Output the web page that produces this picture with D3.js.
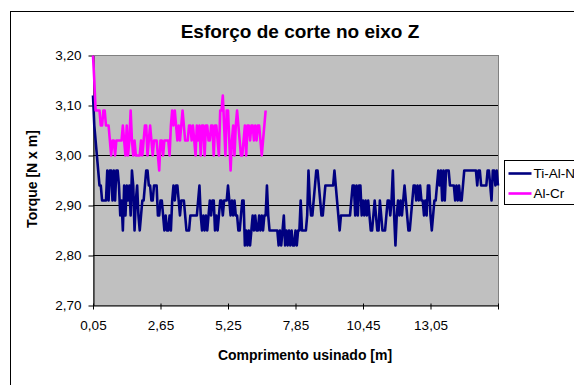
<!DOCTYPE html>
<html>
<head>
<meta charset="utf-8">
<script src="https://cdn.jsdelivr.net/npm/d3@7"></script>
<style>
body { margin: 0; background: #fff; }
svg { display: block; font-family: Arial, "Liberation Sans", sans-serif; }
</style>
</head>
<body>
<div id="content"></div>
<script>
// Torque readings (N x m), one every 0.05 m of machined length
const tiAlN = [
  3.12,3.06,3.03,3.00,2.97,2.94,2.94,2.91,2.91,2.91,
  2.91,2.97,2.91,2.97,2.97,2.91,2.97,2.91,2.97,2.97,
  2.94,2.88,2.91,2.85,2.94,2.88,2.94,2.91,2.94,2.88,
  2.97,2.94,2.85,2.91,2.94,2.88,2.85,2.88,2.91,2.91,
  2.94,2.97,2.97,2.94,2.94,2.91,2.91,2.94,2.94,2.94,
  2.88,2.88,2.91,2.91,2.88,2.85,2.88,2.85,2.85,2.88,
  2.85,2.91,2.94,2.91,2.94,2.94,2.91,2.88,2.91,2.91,
  2.91,2.88,2.85,2.85,2.85,2.88,2.88,2.88,2.88,2.88,
  2.88,2.91,2.94,2.88,2.85,2.88,2.85,2.88,2.85,2.88,
  2.91,2.88,2.91,2.91,2.85,2.88,2.85,2.88,2.91,2.91,
  2.88,2.91,2.91,2.91,2.94,2.91,2.88,2.91,2.88,2.91,
  2.88,2.88,2.85,2.85,2.88,2.91,2.91,2.82,2.85,2.82,
  2.85,2.82,2.85,2.88,2.85,2.88,2.85,2.85,2.88,2.85,
  2.88,2.85,2.88,2.88,2.94,2.88,2.85,2.85,2.85,2.85,
  2.85,2.85,2.85,2.82,2.85,2.82,2.85,2.88,2.82,2.85,
  2.82,2.85,2.82,2.85,2.82,2.82,2.85,2.82,2.85,2.85,
  2.91,2.85,2.85,2.85,2.85,2.88,2.97,2.91,2.88,2.88,
  2.91,2.94,2.97,2.97,2.94,2.91,2.88,2.88,2.91,2.94,
  2.94,2.94,2.94,2.94,2.94,2.94,2.97,2.94,2.91,2.88,
  2.85,2.88,2.88,2.88,2.88,2.88,2.88,2.88,2.88,2.91,
  2.94,2.94,2.88,2.94,2.88,2.94,2.94,2.88,2.91,2.88,
  2.91,2.88,2.91,2.88,2.85,2.85,2.88,2.91,2.88,2.85,
  2.85,2.91,2.88,2.85,2.85,2.85,2.88,2.91,2.91,2.88,
  2.91,2.97,2.88,2.82,2.88,2.91,2.88,2.91,2.88,2.91,
  2.94,2.91,2.88,2.85,2.85,2.88,2.91,2.94,2.94,2.91,
  2.94,2.91,2.94,2.91,2.91,2.88,2.91,2.88,2.94,2.94,
  2.88,2.85,2.88,2.91,2.91,2.94,2.97,2.94,2.97,2.91,
  2.97,2.91,2.97,2.97,2.97,2.94,2.94,2.94,2.94,2.91,
  2.94,2.91,2.94,2.91,2.91,2.94,2.97,2.97,2.97,2.97,
  2.97,2.97,2.97,2.97,2.97,2.97,2.94,2.97,2.97,2.94,
  2.94,2.94,2.94,2.94,2.97,2.97,2.94,2.91,2.97,2.97,
  2.94,2.97,2.94
];

const alCr = [
  3.20,3.15,3.09,3.09,3.09,3.09,3.06,3.06,3.09,3.09,
  3.06,3.06,3.06,3.03,3.00,3.03,3.03,3.00,3.03,3.03,
  3.03,3.03,3.03,3.06,3.03,3.00,3.06,3.00,3.03,3.09,
  3.03,3.00,3.03,3.00,3.00,3.00,3.00,3.03,3.00,3.03,
  3.06,3.06,3.00,3.03,3.06,3.03,3.00,3.03,3.03,3.03,
  3.00,2.97,3.03,3.03,3.00,3.03,3.03,3.03,3.03,3.00,
  3.06,3.09,3.06,3.09,3.06,3.03,3.06,3.03,3.06,3.09,
  3.06,3.03,3.03,3.03,3.06,3.06,3.03,3.06,3.03,3.00,
  3.06,3.03,3.06,3.00,3.06,3.06,3.00,3.06,3.06,3.03,
  3.03,3.06,3.06,3.00,3.06,3.06,3.03,3.00,3.09,3.09,
  3.12,3.06,3.00,3.09,3.09,3.03,2.97,3.03,3.06,3.00,
  3.06,3.09,3.06,3.03,3.00,3.00,3.03,3.06,3.00,3.06,
  3.06,3.03,3.06,3.06,3.03,3.06,3.03,3.06,3.06,3.03,
  3.00,3.03,3.06,3.09
];

const seriesNames = ['Ti-Al-N', 'Al-Cr'];
const colors = ['#000080', '#FF00FF'];
const firstLength = 0.05;
const lengthStep = 0.05;
const xTicks = [0.05, 2.65, 5.25, 7.85, 10.45, 13.05, 15.65];
const xTickLabels = ['0,05', '2,65', '5,25', '7,85', '10,45', '13,05', ''];
const yTicks = [2.70, 2.80, 2.90, 3.00, 3.10, 3.20];

var width = 574;
var height = 385;
var plot = { left: 93, right: 498, top: 55.5, bottom: 305.5 };

const svg = d3.select('#content')
              .append('svg')
              .attr('width', width)
              .attr('height', height);

// chart area frame (runs past the window on the right and bottom)
svg.append('rect')
   .attr('x', 10.5).attr('y', 11.5)
   .attr('width', 700).attr('height', 500)
   .attr('fill', '#fff')
   .attr('stroke', '#000');

const x = d3.scaleLinear()
            .domain([firstLength, firstLength + (tiAlN.length - 1) * lengthStep])
            .range([plot.left, plot.right]);

const y = d3.scaleLinear()
            .domain([2.70, 3.20])
            .range([plot.bottom, plot.top]);

svg.append('rect')
   .attr('x', plot.left + 0.5).attr('y', plot.top)
   .attr('width', plot.right - plot.left).attr('height', plot.bottom - plot.top)
   .attr('fill', '#C0C0C0')
   .attr('stroke', '#808080');

svg.append('g')
   .selectAll('line')
   .data(yTicks.slice(1, -1))
   .enter()
   .append('line')
   .attr('x1', plot.left).attr('x2', plot.right)
   .attr('y1', d => y(d)).attr('y2', d => y(d))
   .attr('stroke', '#000')
   .attr('stroke-width', 1);

const yAxis = d3.axisLeft(y)
                .tickValues(yTicks)
                .tickSize(5)
                .tickSizeOuter(0)
                .tickPadding(7)
                .tickFormat(d => d.toFixed(2).replace('.', ','));

const yg = svg.append('g')
   .attr('transform', 'translate(' + (plot.left + 0.5) + ',0)')
   .call(yAxis);

const xAxis = d3.axisBottom(x)
                .tickValues(xTicks)
                .tickSize(4)
                .tickSizeOuter(0)
                .tickFormat((d, i) => xTickLabels[i]);

const xg = svg.append('g')
   .attr('transform', 'translate(0,' + plot.bottom + ')')
   .call(xAxis);

[yg, xg].forEach(g => {
    g.select('.domain').attr('stroke', '#000');
    g.selectAll('.tick line').attr('stroke', '#000');
    g.selectAll('.tick text')
     .attr('fill', '#000')
     .style('font-size', '13.5px')
     .style('font-family', 'Arial, "Liberation Sans", sans-serif');
});
xg.selectAll('.tick line').attr('y1', -2).attr('y2', 4);
xg.selectAll('.tick text').attr('y', 15);

const line = d3.line()
               .x((d, i) => x(firstLength + i * lengthStep))
               .y(d => y(d));

[tiAlN, alCr].forEach((values, k) => {
    svg.append('path')
       .datum(values)
       .attr('fill', 'none')
       .attr('stroke', colors[k])
       .attr('stroke-width', 2.6)
       .attr('stroke-linejoin', 'round')
       .attr('d', line);
});

svg.append('text')
   .attr('x', 300).attr('y', 38)
   .attr('text-anchor', 'middle')
   .style('font-size', '19px')
   .style('font-weight', 'bold')
   .text('Esforço de corte no eixo Z');

svg.append('text')
   .attr('x', 305).attr('y', 360)
   .attr('text-anchor', 'middle')
   .style('font-size', '14px')
   .style('font-weight', 'bold')
   .text('Comprimento usinado [m]');

svg.append('text')
   .attr('transform', 'translate(37,179) rotate(-90)')
   .attr('text-anchor', 'middle')
   .style('font-size', '14px')
   .style('font-weight', 'bold')
   .text('Torque [N x m]');

const legend = svg.append('g')
                  .attr('transform', 'translate(504.5,160.5)');

legend.append('rect')
      .attr('width', 120).attr('height', 44)
      .attr('fill', '#fff')
      .attr('stroke', '#000');

const items = legend.selectAll('g.item')
                    .data(seriesNames)
                    .enter()
                    .append('g')
                    .attr('class', 'item')
                    .attr('transform', (d, i) => 'translate(0,' + (13 + i * 20) + ')');

items.append('line')
     .attr('x1', 4).attr('x2', 27)
     .attr('stroke', (d, i) => colors[i])
     .attr('stroke-width', 2.6);

items.append('text')
     .attr('x', 29).attr('dy', '0.35em')
     .style('font-size', '13.5px')
     .text(d => d);
</script>
</body>
</html>
